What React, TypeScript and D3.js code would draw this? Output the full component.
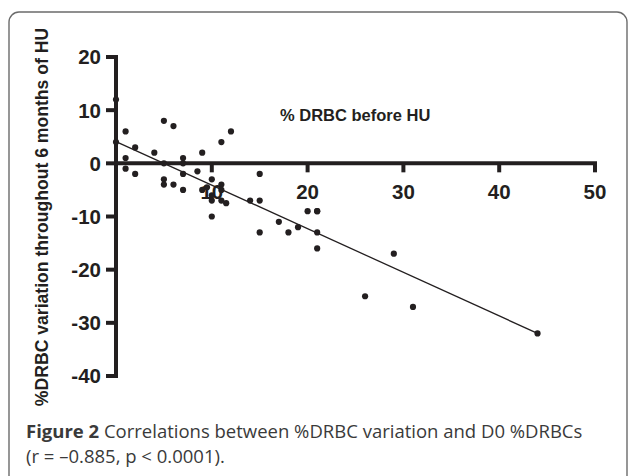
import * as d3 from 'd3';

// % DRBC before HU (x) and its variation over 6 months (y)
const drbcBefore = [
  0, 0, 1, 1, 1, 2, 2, 4, 5, 5, 5, 5, 6, 6, 7, 7, 7, 7, 8.5, 9, 9, 9.5, 10, 10,
  10, 10, 11, 11, 11, 11, 11.5, 12, 14, 15, 15, 15, 17, 18, 19, 20, 21, 21, 21,
  21, 26, 29, 31, 44,
];
const drbcChange = [
  12, 4, 6, 1, -1, 3, -2, 2, 8, 0, -3, -4, 7, -4, 1, 0, -2, -5, -1.5, 2, -5,
  -4.5, -3, -6, -7, -10, 4, -4, -5, -7, -7.5, 6, -7, -2, -7, -13, -11, -13, -12,
  -9, -9, -13, -16, -9, -25, -17, -27, -32,
];
const xTicks = [10, 20, 30, 40, 50];
const yTicks = [20, 10, 0, -10, -20, -30, -40];

// regression line
const fitRange = [0, 44];
const fitIntercept = 4.1;
const fitSlope = -0.82;

const ink = '#231f20';

export default function App() {
  const width = 629;
  const height = 476;

  const x = d3.scaleLinear().domain([0, 50]).range([116, 595]);
  const y = d3.scaleLinear().domain([-40, 20]).range([376, 57]);

  const points = drbcBefore.map((d, i) => [d, drbcChange[i]]);
  const fitLine = d3
    .line<number>()
    .x((d) => x(d))
    .y((d) => y(fitIntercept + fitSlope * d));

  const tickFont = { fontFamily: 'Liberation Sans, Arial, sans-serif', fontWeight: 700 };
  const captionFont = { fontFamily: 'Open Sans, sans-serif' };

  return (
    <svg
      width={width}
      height={height}
      style={{ position: 'absolute', left: 0, top: 0, background: '#fff' }}
    >
      <rect x={9} y={12} width={618} height={490} rx={10} fill="none" stroke="#6b6b6b" strokeWidth={1.4} />

      {/* y axis */}
      <line x1={x(0)} x2={x(0)} y1={y(20) - 2} y2={y(-40) + 2} stroke={ink} strokeWidth={4} />
      {yTicks.map((t) => (
        <g key={'y' + t}>
          <line x1={x(0) - 10} x2={x(0)} y1={y(t)} y2={y(t)} stroke={ink} strokeWidth={4} />
          <text x={101} y={y(t)} dy="0.36em" textAnchor="end" fontSize={20.5} fill={ink} style={tickFont}>
            {t}
          </text>
        </g>
      ))}

      {/* x axis */}
      <line x1={x(0)} x2={x(50) + 2} y1={y(0)} y2={y(0)} stroke={ink} strokeWidth={4} />
      {xTicks.map((t) => (
        <g key={'x' + t}>
          <line x1={x(t)} x2={x(t)} y1={y(0)} y2={y(0) + 9} stroke={ink} strokeWidth={4} />
          <text x={x(t)} y={199} textAnchor="middle" fontSize={20.5} fill={ink} style={tickFont}>
            {t}
          </text>
        </g>
      ))}

      <text x={280} y={121} fontSize={16.5} fill={ink} style={tickFont}>
        % DRBC before HU
      </text>
      <text
        transform="translate(48,217) rotate(-90)"
        textAnchor="middle"
        fontSize={17.6}
        fill={ink}
        style={tickFont}
      >
        %DRBC variation throughout 6 months of HU
      </text>

      <path d={fitLine(fitRange) ?? ''} fill="none" stroke={ink} strokeWidth={1.3} />
      {points.map(([px, py], i) => (
        <circle key={i} cx={x(px)} cy={y(py)} r={3.1} fill={ink} />
      ))}

      <text x={26} y={438} fontSize={18.5} fill="#3a3a3a" style={captionFont}>
        <tspan fontWeight={700}>Figure 2</tspan> Correlations between %DRBC variation and D0 %DRBCs
      </text>
      <text x={26} y={463} fontSize={18.5} fill="#3a3a3a" style={captionFont}>
        (r = –0.885, p &lt; 0.0001).
      </text>
    </svg>
  );
}
